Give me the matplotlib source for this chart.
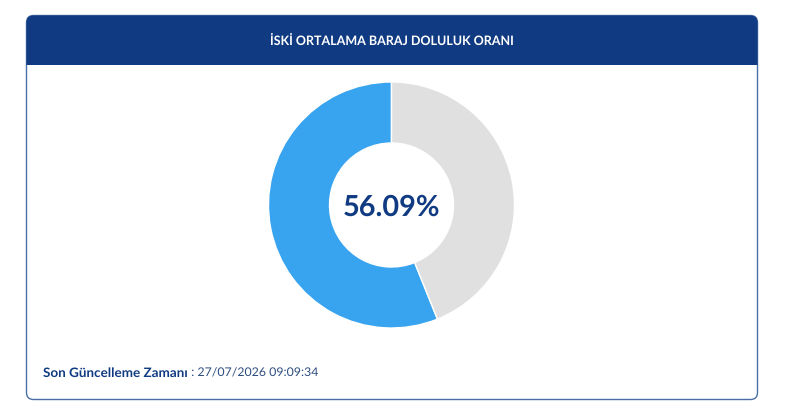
import matplotlib
matplotlib.use("Agg")
import matplotlib.pyplot as plt
from matplotlib.patches import FancyBboxPatch, Rectangle

TITLE = "İSKİ ORTALAMA BARAJ DOLULUK ORANI"
CENTER_LABEL = "56.09%"
UPDATE_LABEL = "Son Güncelleme Zamanı"
UPDATE_VALUE = " : 27/07/2026 09:09:34"

slice_names = ["Dolu", "Boş"]
slice_values = [56.09, 43.91]
slice_colors = ["#38A3EE", "#E0E0E0"]

NAVY = "#103B82"
H = 408

plt.rcParams["font.family"] = ["Lato", "DejaVu Sans"]
plt.rcParams["text.hinting"] = "none"

fig = plt.figure(figsize=(8, 4.08), dpi=100, facecolor="white")
ax = fig.add_axes([0, 0, 1, 1])

# card outline, y measured from the top of the picture
card = FancyBboxPatch((26.5 + 7, H - 399.5 + 7), 731 - 14, 384 - 14,
                      boxstyle="round,pad=7,rounding_size=7",
                      facecolor="white", edgecolor="#4A6FA5", linewidth=1.0, zorder=1)
ax.add_patch(card)
header = Rectangle((26, H - 64.5), 732, 50, facecolor=NAVY, edgecolor="none", zorder=2)
ax.add_patch(header)
header.set_clip_path(card)

ax.text(391.5, H - 41, TITLE, color="white", fontsize=9.0, fontweight="bold",
        ha="center", va="center", zorder=3)

wedges, _ = ax.pie(slice_values, colors=slice_colors, startangle=90, counterclock=True,
                   center=(391.5, H - 205), radius=123,
                   wedgeprops={"width": 61, "edgecolor": "white", "linewidth": 1.0},
                   frame=False)
for w in wedges:
    w.set_zorder(3)

ax.set_xlim(0, 800)
ax.set_ylim(0, H)
ax.set_aspect("auto")
ax.axis("off")

ax.text(391.5, H - 207, CENTER_LABEL, color=NAVY, fontsize=20.8, fontweight="bold",
        ha="center", va="center", zorder=4)

t = ax.text(43, H - 373, UPDATE_LABEL, color=NAVY, fontsize=9.7, fontweight="bold",
            ha="left", va="center", zorder=3)
fig.canvas.draw()
bb = t.get_window_extent()
ax.text(bb.x1, H - 373, UPDATE_VALUE, color="#2F4E80", fontsize=8.9,
        ha="left", va="center", zorder=3)

fig.savefig("out.png", dpi=100)
